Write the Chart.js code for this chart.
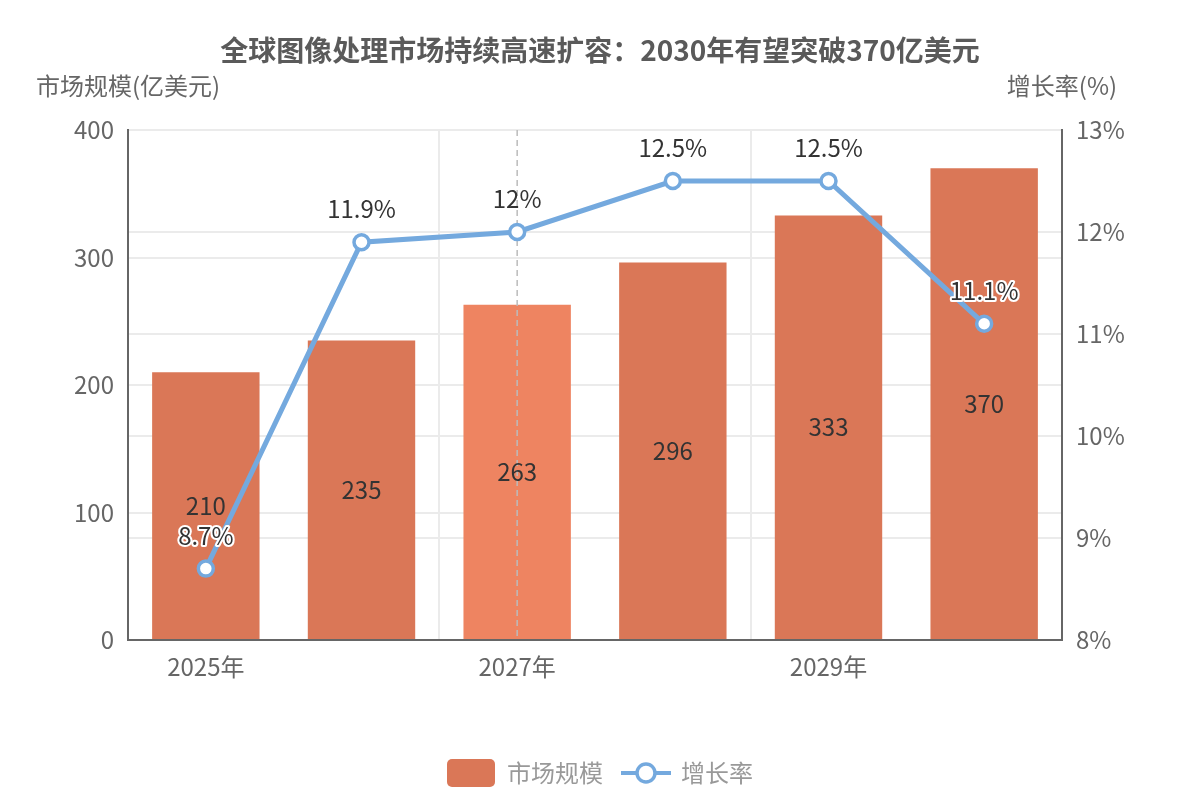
<!DOCTYPE html>
<html lang="zh">
<head>
<meta charset="utf-8">
<title>全球图像处理市场</title>
<script src="https://cdn.jsdelivr.net/npm/chart.js@4.4.1/dist/chart.umd.min.js"></script>
<style>
    html, body { margin: 0; padding: 0; background: #fff; }
    #wrap { width: 1200px; height: 800px; }
</style>
</head>
<body>
<div id="wrap"><canvas id="grafico" width="1200" height="800"></canvas></div>
<script>
// 数据
const anos = ['2025年', '2026年', '2027年', '2028年', '2029年', '2030年'];
const mercado = [210, 235, 263, 296, 333, 370];
const crescimento = [8.7, 11.9, 12, 12.5, 12.5, 11.1];
const nomeMercado = '市场规模';
const nomeCrescimento = '增长率';
const titulo = '全球图像处理市场持续高速扩容：2030年有望突破370亿美元';
const eixoEsquerda = '市场规模(亿美元)';
const eixoDireita = '增长率(%)';

const FONTE = '"Noto Sans CJK SC", "Noto Sans", sans-serif';
const corBarra = '#DA7757';
const corDestaque = '#EE8461';
const corLinha = '#74A9DE';
const corGrade = '#ebebeb';
const corEixo = '#666';
const indiceDestaque = 2;

Chart.defaults.font.family = FONTE;

// Plugin para textos, linha tracejada e legenda
const extras = {
    id: 'extras',
    afterDatasetDraw(chart, args) {
        if (args.index !== 0) return;
        const { ctx, chartArea, scales } = chart;
        const x = scales.x.getPixelForValue(indiceDestaque);
        ctx.save();
        ctx.strokeStyle = '#bbb';
        ctx.lineWidth = 1.5;
        ctx.setLineDash([6, 4]);
        ctx.beginPath();
        ctx.moveTo(x, chartArea.top);
        ctx.lineTo(x, chartArea.bottom);
        ctx.stroke();
        ctx.restore();
    },
    afterDatasetsDraw(chart) {
        const ctx = chart.ctx;
        const barras = chart.getDatasetMeta(0).data;
        const pontos = chart.getDatasetMeta(1).data;
        ctx.save();
        ctx.font = '24px ' + FONTE;
        ctx.textAlign = 'center';
        ctx.textBaseline = 'middle';
        ctx.fillStyle = '#333';
        barras.forEach((b, i) => {
            ctx.fillText(String(mercado[i]), b.x, (b.y + b.base) / 2);
        });
        pontos.forEach((p, i) => {
            const y = p.y - 33;
            const txt = crescimento[i] + '%';
            if (y > barras[i].y) {
                ctx.strokeStyle = '#fff';
                ctx.lineWidth = 4;
                ctx.lineJoin = 'round';
                ctx.strokeText(txt, p.x, y);
            }
            ctx.fillStyle = '#333';
            ctx.fillText(txt, p.x, y);
        });
        ctx.restore();
    },
    afterDraw(chart) {
        const { ctx, chartArea } = chart;
        ctx.save();
        ctx.textBaseline = 'middle';
        ctx.textAlign = 'center';
        // título
        ctx.fillStyle = '#5a5a5a';
        ctx.font = 'bold 28px ' + FONTE;
        ctx.fillText(titulo, 600, 50);
        // nomes dos eixos
        ctx.fillStyle = corEixo;
        ctx.font = '24px ' + FONTE;
        ctx.fillText(eixoEsquerda, chartArea.left, 86);
        ctx.fillText(eixoDireita, chartArea.right, 86);
        // legenda
        ctx.font = '24px ' + FONTE;
        const w1 = ctx.measureText(nomeMercado).width;
        const w2 = ctx.measureText(nomeCrescimento).width;
        const total = 48 + 12 + w1 + 18 + 50 + 10 + w2;
        let x = 600 - total / 2;
        const y = 773;
        ctx.fillStyle = corBarra;
        ctx.beginPath();
        ctx.roundRect(x, y - 14, 48, 28, 5);
        ctx.fill();
        x += 60;
        ctx.textAlign = 'left';
        ctx.fillStyle = '#999';
        ctx.fillText(nomeMercado, x, y);
        x += w1 + 18;
        ctx.strokeStyle = corLinha;
        ctx.lineWidth = 4;
        ctx.beginPath();
        ctx.moveTo(x, y);
        ctx.lineTo(x + 50, y);
        ctx.stroke();
        ctx.fillStyle = '#fff';
        ctx.lineWidth = 3.5;
        ctx.beginPath();
        ctx.arc(x + 25, y, 9, 0, Math.PI * 2);
        ctx.fill();
        ctx.stroke();
        x += 60;
        ctx.fillStyle = '#999';
        ctx.fillText(nomeCrescimento, x, y);
        ctx.restore();
    }
};

// Função para criar o gráfico
function criarGrafico() {
    const ctx = document.getElementById('grafico').getContext('2d');
    new Chart(ctx, {
        data: {
            labels: anos,
            datasets: [{
                type: 'bar',
                label: nomeMercado,
                data: mercado,
                yAxisID: 'y',
                order: 2,
                backgroundColor: mercado.map((v, i) => i === indiceDestaque ? corDestaque : corBarra),
                categoryPercentage: 1,
                barPercentage: 0.69
            }, {
                type: 'line',
                label: nomeCrescimento,
                data: crescimento,
                yAxisID: 'y1',
                order: 1,
                borderColor: corLinha,
                borderWidth: 5,
                pointRadius: 7.5,
                pointBorderWidth: 3.5,
                pointBackgroundColor: '#fff',
                pointBorderColor: corLinha,
                tension: 0
            }]
        },
        options: {
            responsive: false,
            animation: false,
            layout: { padding: { top: 130, left: 0, right: 0, bottom: 0 } },
            plugins: {
                legend: { display: false },
                title: { display: false },
                tooltip: { enabled: false }
            },
            scales: {
                x: {
                    grid: {
                        offset: true,
                        drawTicks: false,
                        color: c => c.index % 2 === 0 ? corGrade : 'rgba(0,0,0,0)',
                        lineWidth: 2
                    },
                    border: { color: corEixo, width: 2 },
                    ticks: {
                        autoSkip: false,
                        maxRotation: 0,
                        padding: 12,
                        color: corEixo,
                        font: { size: 24 },
                        callback: (v, i) => i % 2 === 0 ? anos[i] : ''
                    },
                    afterFit: s => { s.height = 160; }
                },
                y: {
                    position: 'left',
                    min: 0,
                    max: 400,
                    grid: { drawTicks: false, color: corGrade, lineWidth: 2 },
                    border: { color: corEixo, width: 2 },
                    ticks: { stepSize: 100, padding: 14, color: corEixo, font: { size: 24 } },
                    afterFit: s => { s.width = 128; }
                },
                y1: {
                    position: 'right',
                    min: 8,
                    max: 13,
                    grid: { drawTicks: false, color: corGrade, lineWidth: 2 },
                    border: { color: corEixo, width: 2 },
                    ticks: { stepSize: 1, padding: 14, color: corEixo, font: { size: 24 }, callback: v => v + '%' },
                    afterFit: s => { s.width = 138; }
                }
            }
        },
        plugins: [extras]
    });
}

document.addEventListener('DOMContentLoaded', criarGrafico);
</script>
</body>
</html>
